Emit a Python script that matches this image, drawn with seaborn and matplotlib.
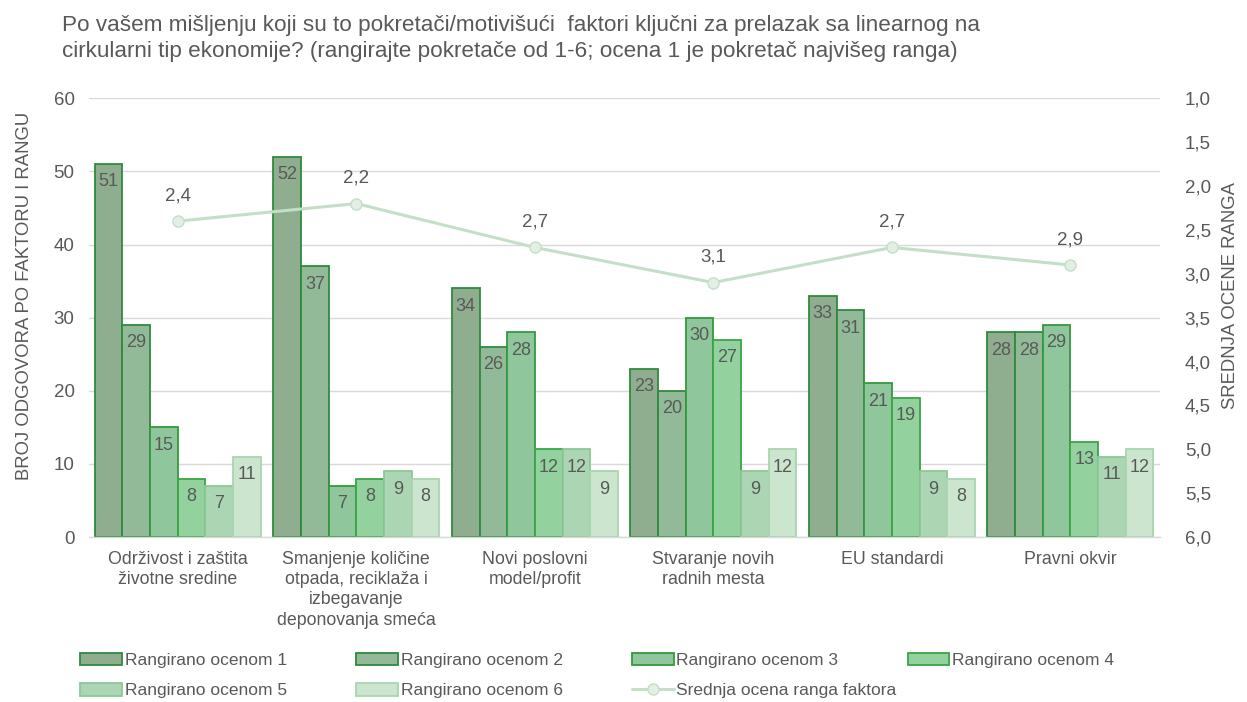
import matplotlib
matplotlib.use("Agg")

import matplotlib.pyplot as plt
import numpy as np
import pandas as pd
import seaborn as sns

# Data
categories = [
    "Održivost i zaštita\nživotne sredine",
    "Smanjenje količine\notpada, reciklaža i\nizbegavanje\ndeponovanja smeća",
    "Novi poslovni\nmodel/profit",
    "Stvaranje novih\nradnih mesta",
    "EU standardi",
    "Pravni okvir",
]
rank_labels = [f"Rangirano ocenom {i}" for i in range(1, 7)]
rank1 = [51, 52, 34, 23, 33, 28]
rank2 = [29, 37, 26, 20, 31, 28]
rank3 = [15, 7, 28, 30, 21, 29]
rank4 = [8, 8, 12, 27, 19, 13]
rank5 = [7, 9, 12, 9, 9, 11]
rank6 = [11, 8, 9, 12, 8, 12]
mean_rank = [2.4, 2.2, 2.7, 3.1, 2.7, 2.9]
line_label = "Srednja ocena ranga faktora"

fills = ["#8fae8f", "#93ba98", "#8fc69c", "#93d29f", "#acd6b3", "#cbe5ce"]
edges = ["#2f8a3e", "#2f8a3e", "#34993f", "#3aa545", "#8cc896", "#a9d5b0"]
grey = "#595959"

sns.set_theme(style="white")
plt.rcParams["font.family"] = ["Liberation Sans", "DejaVu Sans"]

rows = []
for lab, vals in zip(rank_labels, [rank1, rank2, rank3, rank4, rank5, rank6]):
    for cat, v in zip(categories, vals):
        rows.append({"kategorija": cat, "rang": lab, "broj": v})
df = pd.DataFrame(rows)

fig, ax = plt.subplots(figsize=(12.47, 7.02), dpi=100)
fig.subplots_adjust(left=0.071, right=0.93, top=0.86, bottom=0.235)

sns.barplot(data=df, x="kategorija", y="broj", hue="rang", order=categories,
            hue_order=rank_labels, palette=fills, width=0.93, saturation=1,
            edgecolor="none", ax=ax, legend=False)

for cont, ec in zip(ax.containers, edges):
    for patch in cont:
        patch.set_edgecolor(ec)
        patch.set_linewidth(1.3)
    ax.bar_label(cont, padding=-19, color=grey, fontsize=13)

ax.set_ylim(0, 60)
ax.set_yticks(range(0, 61, 10))
ax.set_xlim(-0.5, 5.5)
ax.yaxis.grid(True, color="#d9d9d9", linewidth=1)
ax.set_axisbelow(True)
for s in ["top", "right", "left"]:
    ax.spines[s].set_visible(False)
ax.spines["bottom"].set_color("#d9d9d9")
ax.spines["bottom"].set_linewidth(1)
ax.tick_params(axis="y", colors=grey, labelsize=13.5, length=0, pad=10)
ax.tick_params(axis="x", colors=grey, labelsize=12.8, length=0, pad=10)
ax.set_xlabel("")
ax.set_ylabel("BROJ ODGOVORA PO FAKTORU I RANGU", color=grey, fontsize=13.3)
ax.yaxis.set_label_coords(-0.052, 0.55)
for t in ax.get_xticklabels():
    t.set_verticalalignment("top")
    t.set_linespacing(1.25)

ax2 = ax.twinx()
xs = np.arange(len(categories))
ax2.plot(xs, mean_rank, color="#c3dfc7", linewidth=2.2, marker="o", markersize=8,
         markerfacecolor="#e3efe4", markeredgecolor="#c3dfc7", label=line_label)
for x, v in zip(xs, mean_rank):
    ax2.annotate(f"{v:.1f}".replace(".", ","), (x, v), xytext=(0, 12),
                 textcoords="offset points", ha="center", va="bottom",
                 color=grey, fontsize=13.5)
ax2.set_ylim(6, 1)
ax2.set_yticks(np.arange(1, 6.01, 0.5))
ax2.set_yticklabels([f"{v:.1f}".replace(".", ",") for v in np.arange(1, 6.01, 0.5)])
ax2.tick_params(axis="y", colors=grey, labelsize=13.5, length=0, pad=18)
for s in ax2.spines.values():
    s.set_visible(False)
ax2.set_ylabel("SREDNJA OCENE RANGA", color=grey, fontsize=13.3)
ax2.yaxis.set_label_coords(1.058, 0.55)
ax2.grid(False)

handles = [plt.Rectangle((0, 0), 1, 1, facecolor=f, edgecolor=e, linewidth=1.3)
           for f, e in zip(fills, edges)]
handles.append(ax2.get_lines()[0])
labels = rank_labels + [line_label]
# two legend rows, so the columns line up like the reference
leg_kw = dict(loc="lower left", frameon=False, fontsize=12.5, labelcolor=grey,
              handlelength=2.4, handleheight=0.75, handletextpad=0.15,
              columnspacing=4.0)
fig.legend(handles[:4], labels[:4], ncol=4, bbox_to_anchor=(0.052, 0.026), **leg_kw)
fig.legend(handles[4:], labels[4:], ncol=3, bbox_to_anchor=(0.052, -0.017), **leg_kw)

fig.text(0.05, 0.945,
         "Po vašem mišljenju koji su to pokretači/motivišući  faktori ključni za prelazak sa linearnog na\n"
         "cirkularni tip ekonomije? (rangirajte pokretače od 1-6; ocena 1 je pokretač najvišeg ranga)",
         color=grey, fontsize=16.2, ha="left", va="center", linespacing=1.3)

fig.savefig("out.png", dpi=100)
